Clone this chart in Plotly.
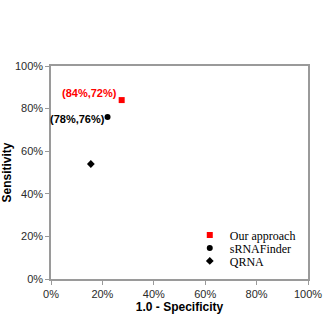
import plotly.graph_objects as go

series = ["Our approach", "sRNAFinder", "QRNA"]
x_vals = [27.5, 22, 15.5]   # 1.0 - Specificity (%)
y_vals = [84, 76, 54]       # Sensitivity (%)
colors = ["#ff0000", "#000000", "#000000"]
symbols = ["square", "circle", "diamond"]
sizes = [6, 6, 6]
labels = ["(84%,72%)", "(78%,76%)", None]
label_colors = ["#ff0000", "#000000", None]
tick_vals = [0, 20, 40, 60, 80, 100]
tick_text = ["0%", "20%", "40%", "60%", "80%", "100%"]
legend_ys = [0.207, 0.146, 0.085]

fig = go.Figure()
for i, name in enumerate(series):
    lg = "legend" if i == 0 else "legend%d" % (i + 1)
    fig.add_trace(go.Scatter(
        x=[x_vals[i]], y=[y_vals[i]], mode="markers", name=name, legend=lg,
        marker=dict(color=colors[i], symbol=symbols[i], size=sizes[i], line=dict(width=0)),
    ))
    if labels[i]:
        fig.add_annotation(x=x_vals[i], y=y_vals[i], text="<b>%s</b>" % labels[i],
                           showarrow=False, xanchor="right", yanchor="middle",
                           xshift=-3 if i == 0 else -1, yshift=7 if i == 0 else -2,
                           font=dict(family="Liberation Sans, Arial", size=11, color=label_colors[i]))

axis_common = dict(range=[0, 100], tickvals=tick_vals, ticktext=tick_text, showgrid=False,
                   zeroline=False, showline=True, linecolor="#9a9a9a", linewidth=1.5, mirror=True,
                   ticks="outside", ticklen=4, tickcolor="#9a9a9a", automargin=False,
                   tickfont=dict(family="Liberation Sans, Arial", size=11, color="#2a2a2a"))

fig.update_xaxes(**axis_common, title=dict(text="<b>1.0 - Specificity</b>", standoff=5,
                 font=dict(family="Liberation Sans, Arial", size=12, color="#000000")))
fig.update_yaxes(**axis_common, title=dict(text="<b>Sensitivity</b>", standoff=2,
                 font=dict(family="Liberation Sans, Arial", size=12, color="#000000")))

legend_font = dict(family="Liberation Serif, Times New Roman", size=12, color="#000000")
layout_legends = {}
for i, yy in enumerate(legend_ys):
    key = "legend" if i == 0 else "legend%d" % (i + 1)
    layout_legends[key] = dict(x=0.54, y=yy, xanchor="left", yanchor="middle",
                               bgcolor="rgba(0,0,0,0)", font=legend_font, itemwidth=30)

fig.update_layout(
    template="none",
    width=325, height=314, margin=dict(l=51, r=17, t=66, b=35),
    paper_bgcolor="white", plot_bgcolor="white", showlegend=True,
    font=dict(family="Liberation Sans, Arial", color="#2a2a2a"),
    **layout_legends,
)
fig.write_html("out.html")
